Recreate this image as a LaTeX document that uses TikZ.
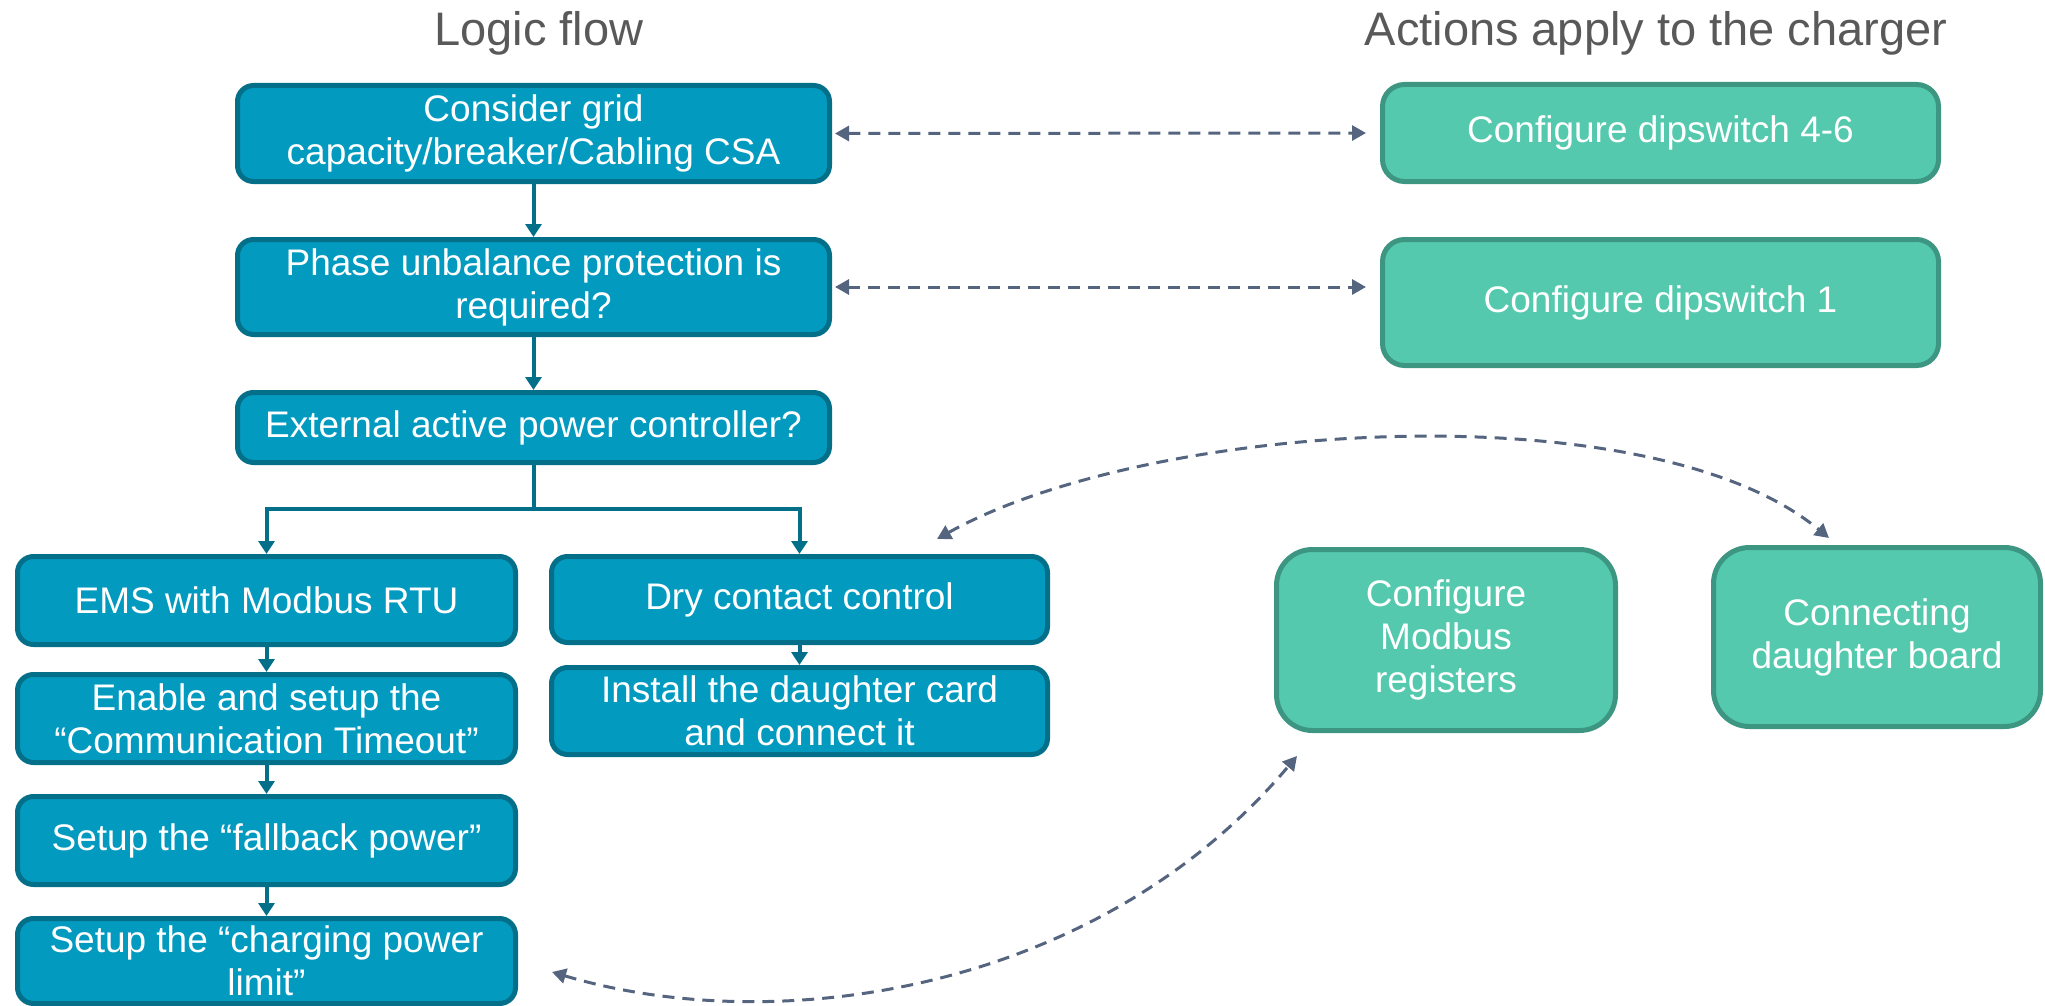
\documentclass[tikz,border=0pt]{standalone}
\usepackage{fontspec}
\setmainfont{Liberation Sans}
\usetikzlibrary{arrows.meta}
\definecolor{bfill}{HTML}{039AC0}
\definecolor{bline}{HTML}{036F88}
\definecolor{gfill}{HTML}{54C9AD}
\definecolor{gline}{HTML}{3D9681}
\definecolor{dcol}{HTML}{56657F}
\definecolor{tcol}{HTML}{595959}
\newcommand\placebox[7]{%
  \pgfmathsetmacro\pbw{(#4-#2)/2-2.5}%
  \pgfmathsetmacro\pbh{(#5-#3)/2-2.5}%
  \pgfmathsetmacro\pbx{(#2+#4)/2}%
  \pgfmathsetmacro\pby{(#3+#5)/2}%
  \node[#6, minimum width=\pbw pt, minimum height=\pbh pt] (#1) at (\pbx,\pby) {#7};%
}
\begin{document}
\begin{tikzpicture}[x=0.5pt,y=-0.5pt,
  boxtext/.style={text=white, align=center, inner sep=0pt, font=\fontsize{18.5}{21.5}\selectfont},
  bluebox/.style={boxtext, draw=bline, fill=bfill, line width=2.5pt, rounded corners=8pt},
  greenbox/.style={boxtext, draw=gline, fill=gfill, line width=2.5pt, rounded corners=11pt},
  greenbig/.style={greenbox, rounded corners=18pt},
  title/.style={text=tcol, anchor=base, inner sep=0pt, font=\fontsize{23.5}{28}\selectfont},
  flow/.style={draw=bline, line width=2pt, -{Triangle[width=8pt,length=6.5pt]}},
  flowline/.style={draw=bline, line width=2pt},
  link/.style={draw=dcol, line width=1.5pt, dash pattern=on 6pt off 4pt,
    {Triangle[width=7.5pt,length=7pt]}-{Triangle[width=7.5pt,length=7pt]}}
]
\useasboundingbox (0,0) rectangle (2045,1006);

\node[title] (t1) at (539,46) {Logic flow};
\node[title] (t2) at (1656,46) {Actions apply to the charger};

\placebox{b1}{235}{83}{832}{184}{bluebox}{Consider grid\\capacity/breaker/Cabling CSA}
\placebox{b2}{235}{237}{832}{337}{bluebox}{Phase unbalance protection is\\required?}
\placebox{b3}{235}{390}{832}{465}{bluebox}{External active power controller?}
\placebox{ems}{15}{554}{518}{647}{bluebox}{EMS with Modbus RTU}
\placebox{enable}{15}{672}{518}{765}{bluebox}{Enable and setup the\\“Communication Timeout”}
\placebox{fall}{15}{794}{518}{887}{bluebox}{Setup the “fallback power”}
\placebox{charge}{15}{916}{518}{1006}{bluebox}{Setup the “charging power\\limit”}
\placebox{dry}{549}{554}{1050}{645}{bluebox}{Dry contact control}
\placebox{inst}{549}{665}{1050}{757}{bluebox}{Install the daughter card\\and connect it}

\placebox{dipA}{1380}{82}{1941}{184}{greenbox}{Configure dipswitch 4-6}
\placebox{dipB}{1380}{237}{1941}{368}{greenbox}{Configure dipswitch 1}
\placebox{modbus}{1274}{547}{1618}{733}{greenbig}{Configure\\Modbus\\registers}
\placebox{conn}{1711}{545}{2043}{729}{greenbig}{Connecting\\daughter board}

\draw[flow] (b1) -- (b2);
\draw[flow] (b2) -- (b3);
\coordinate (split) at (533.5,509);
\draw[flowline] (b3) -- (split);
\draw[flow] (split) -| (ems.north);
\draw[flow] (split) -| (dry.north);
\draw[flow] (ems) -- (enable);
\draw[flow] (enable) -- (fall);
\draw[flow] (fall) -- (charge);
\draw[flow] (dry) -- (inst);

\draw[link, shorten <=1.5pt, shorten >=7pt] (b1.east) -- (dipA.west);
\draw[link, shorten <=1.5pt, shorten >=7pt] (b2.east) -- (b2.east -| dipB.west);

\coordinate (ca) at (937,539);
\coordinate (cb) at (1829,538);
\draw[link] (ca) .. controls (1150,420) and (1650,390) .. (cb);
\coordinate (cc) at (552,972);
\coordinate (cd) at (1297,756);
\draw[link] (cc) .. controls (780,1040) and (1100,990) .. (cd);
\end{tikzpicture}
\end{document}
